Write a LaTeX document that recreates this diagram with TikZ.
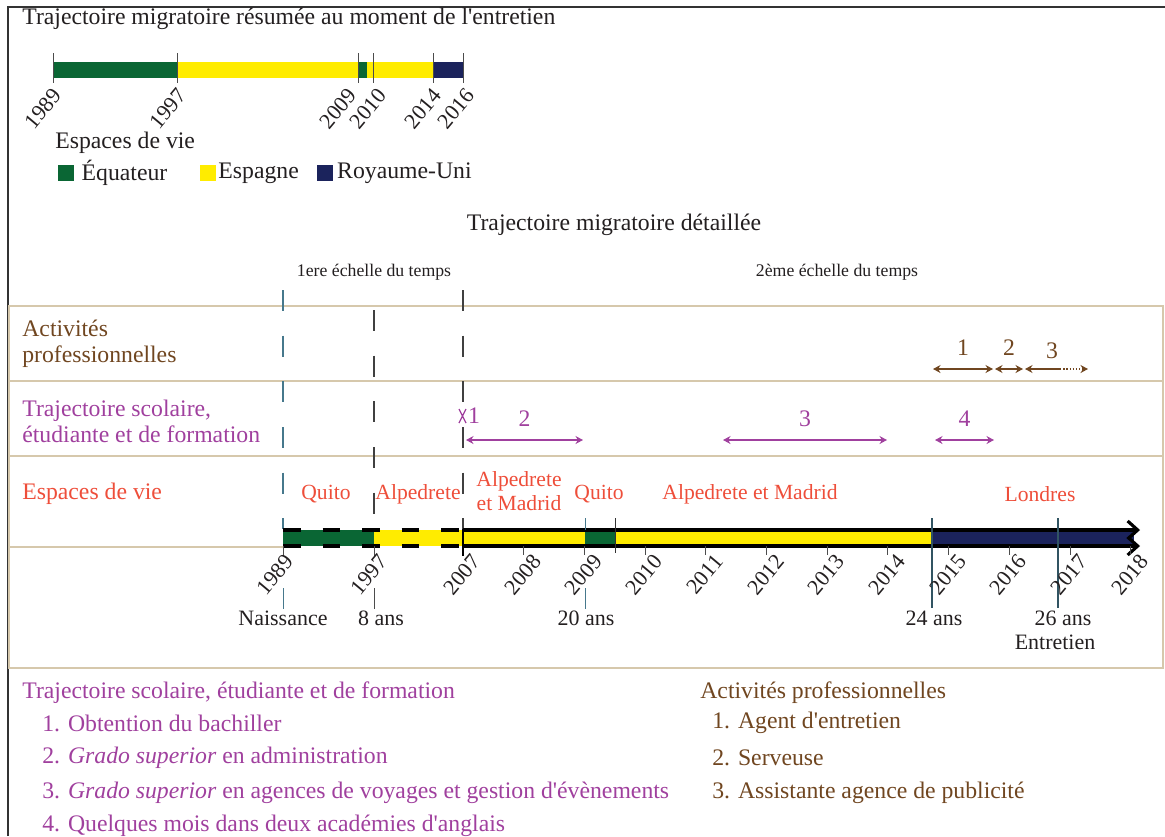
\documentclass[tikz,border=0pt]{standalone}
\usepackage{fontspec}
\setmainfont{Liberation Serif}
\newfontfamily\lserif{Liberation Serif}
\newcommand{\apo}{{\lserif'}}
\usepackage{tikz}
\usepackage{xcolor}
\usetikzlibrary{arrows.meta, positioning, calc}
\definecolor{cGreen}{RGB}{10,102,52}
\definecolor{cYellow}{RGB}{255,236,0}
\definecolor{cNavy}{RGB}{27,35,92}
\definecolor{cBeige}{RGB}{214,200,172}
\definecolor{cRed}{RGB}{238,78,58}
\definecolor{cPurple}{RGB}{160,64,158}
\definecolor{cBrown}{RGB}{112,70,32}
\definecolor{cTeal}{RGB}{70,120,140}
\definecolor{cInk}{RGB}{35,31,32}
\tikzset{
    rowline/.style ={draw=cBeige, line width=1.1pt},
    rowlbl/.style  ={anchor=west, align=left, inner sep=0pt},
    yearlbl/.style ={rotate=50, anchor=east, inner sep=0.5pt, text=cInk, font=\fontsize{12.5}{14}\selectfont},
    placelbl/.style={text=cRed, align=center, inner sep=0pt, font=\fontsize{12.3}{14}\selectfont},
    smalllbl/.style={font=\fontsize{10.1}{12}\selectfont, text=cInk},
    legsq/.style   ={minimum size=0.32cm, inner sep=0pt},
    guide/.style   ={dash pattern=on 12pt off 14pt, line width=0.6pt},
    barline/.style ={line width=1.8pt, black},
    school/.style  ={{Stealth[length=1.5mm,width=1.6mm]}-{Stealth[length=1.5mm,width=1.6mm]}, cPurple, line width=0.8pt},
    work/.style    ={{Stealth[length=1.5mm,width=1.6mm]}-{Stealth[length=1.5mm,width=1.6mm]}, cBrown, line width=0.8pt},
    agelbl/.style  ={anchor=north, inner sep=1pt, text=cInk, font=\fontsize{12.5}{14}\selectfont},
    leg/.style     ={anchor=west, inner sep=0pt},
}

\begin{document}
\begin{tikzpicture}[x=0.02cm, y=-0.02cm, font=\fontsize{13.5}{14.7}\selectfont]
    \useasboundingbox (0,0) rectangle (1165,836);
    \draw[line width=1pt, black!80] (8,836) -- (8,7) -- (1165,7);

    % resume
    \node[leg, text=cInk] (titre1) at (22,19) {Trajectoire migratoire résumée au moment de l\apo entretien};
    \fill[cGreen] (53,62) rectangle (177,78);
    \fill[cYellow] (177,62) rectangle (358,78);
    \fill[cGreen] (358,62) rectangle (367,78);
    \fill[cYellow] (367,62) rectangle (433,78);
    \fill[cNavy] (433,62) rectangle (463,78);
    \foreach \x/\lx/\yr in {53/58/1989,177/183/1997,358/353/2009,373/383/2010,433/438/2014,463/471/2016}{
        \draw[black!70, line width=0.5pt] (\x,53) -- (\x,83);
        \node[yearlbl] (r\yr) at (\lx,91) {\yr};
    }
    \node[leg, text=cInk] (espvie) at (55,143) {Espaces de vie};
    \node[legsq, fill=cGreen] (sqEq) at (66,173) {};
    \node[right=4pt of sqEq, inner sep=0pt, text=cInk] (lgEq) {Équateur};
    \node[legsq, fill=cYellow] (sqEs) at (208,173) {};
    \node[right=1pt of sqEs, inner sep=0pt, text=cInk] (lgEs) {Espagne};
    \node[legsq, fill=cNavy] (sqRu) at (325,173) {};
    \node[right=2pt of sqRu, inner sep=0pt, text=cInk] (lgRu) {Royaume-Uni};

    % detail
    \node[text=cInk] (titre2) at (614,225) {Trajectoire migratoire détaillée};
    \node[smalllbl] (ech1) at (374,272) {1ere échelle du temps};
    \node[smalllbl] (ech2) at (837,272) {2ème échelle du temps};

    \draw[rowline] (9,306) rectangle (1163,668);
    \draw[rowline] (9,381) -- (1163,381);
    \draw[rowline] (9,456) -- (1163,456);
    \draw[rowline] (9,547) -- (283,547);

    \node[rowlbl, text=cBrown] (rowAct) at (22,344) {Activités\\professionnelles};
    \node[rowlbl, text=cPurple] (rowSco) at (22,421) {Trajectoire scolaire,\\étudiante et de formation};
    \node[rowlbl, text=cRed] (rowEsp) at (22,494) {Espaces de vie};

    \draw[guide, cTeal] (283,290) -- (283,529);
    \draw[guide, black!75] (374,310) -- (374,529);
    \draw[guide, black!75] (463,290) -- (463,529);

    % barre
    \fill[cGreen] (283,530) rectangle (374,546);
    \fill[cYellow] (374,530) rectangle (585,546);
    \fill[cGreen] (585,530) rectangle (615,546);
    \fill[cYellow] (615,530) rectangle (932,546);
    \fill[cNavy] (932,530) rectangle (1134,546);
    \coordinate (bHa) at (283,530);
    \coordinate (bHb) at (463,530);
    \coordinate (bHc) at (1140,530);
    \coordinate (bBa) at (283,546);
    \coordinate (bBb) at (463,546);
    \coordinate (bBc) at (1140,546);
    \draw[barline, dash pattern=on 10pt off 12.5pt] (bHa) -- (bHb) (bBa) -- (bBb);
    \draw[barline, -{Straight Barb[length=2mm,width=3.6mm]}] (bHb) -- (bHc);
    \draw[barline, -{Straight Barb[length=2mm,width=3.6mm]}] (bBb) -- (bBc);
    \draw[black, line width=0.6pt] (463,529) -- (463,556);
    \draw[black!70, line width=0.5pt] (283,546) -- (283,556) (374,546) -- (374,556);
    \draw[cTeal, line width=0.5pt] (585,518) -- (585,530);
    \draw[black!80, line width=0.5pt] (615,518) -- (615,553);
    \draw[cTeal!70!black, line width=0.6pt] (932,518) -- (932,608);
    \draw[cTeal!70!black, line width=0.6pt] (1058,518) -- (1058,608);

    \foreach \lx/\yr in {290/1989,384/1997,477/2007}{
        \node[yearlbl] (y\yr) at (\lx,557) {\yr};
    }
    \foreach \i in {1,...,11}{
        \pgfmathtruncatemacro{\yr}{2007+\i}
        \draw[black!70, line width=0.5pt] (463+\i*60.7,546) -- (463+\i*60.7,555);
        \node[yearlbl] (y\yr) at (463+\i*60.7+14,557) {\yr};
    }

    % ages
    \draw[cTeal, line width=0.5pt] (283,588) -- (283,609);
    \draw[black!70, line width=0.5pt] (374,588) -- (374,609);
    \draw[cTeal, line width=0.5pt] (585,588) -- (585,609);
    \node[agelbl] (naiss) at (283,609) {Naissance};
    \node[agelbl] (age8) at (381,609) {8 ans};
    \node[agelbl] (age20) at (586,609) {20 ans};
    \node[agelbl] (age24) at (934,609) {24 ans};
    \node[agelbl] (age26) at (1063,609) {26 ans};
    \node[agelbl] (entr) at (1055,633) {Entretien};

    % lieux
    \node[placelbl] (pQuito1) at (326,494) {Quito};
    \node[placelbl] (pAlp) at (418,494) {Alpedrete};
    \node[placelbl] (pAlpMad1) at (519,491) {Alpedrete\\et Madrid};
    \node[placelbl] (pQuito2) at (599,494) {Quito};
    \node[placelbl] (pAlpMad2) at (750,494) {Alpedrete et Madrid};
    \node[placelbl] (pLond) at (1040,494) {Londres};

    % scolaire
    \draw[cPurple, line width=0.7pt] (459,409) -- (466,423) (466,409) -- (459,423);
    \node[text=cPurple] (sc1) at (474,416) {1};
    \coordinate (sc2a) at (466,440); \coordinate (sc2b) at (583,440);
    \coordinate (sc3a) at (723,440); \coordinate (sc3b) at (887,440);
    \coordinate (sc4a) at (935,440); \coordinate (sc4b) at (994,440);
    \draw[school] (sc2a) -- node[above=4pt]{2} (sc2b);
    \draw[school] (sc3a) -- node[above=4pt]{3} (sc3b);
    \draw[school] (sc4a) -- node[above=4pt]{4} (sc4b);

    % professionnel
    \coordinate (pr1a) at (933,369); \coordinate (pr1b) at (993,369);
    \coordinate (pr2a) at (995,369); \coordinate (pr2b) at (1023,369);
    \coordinate (pr3a) at (1025,369); \coordinate (pr3m) at (1060,369); \coordinate (pr3b) at (1088,369);
    \draw[work] (pr1a) -- node[above=4pt, text=cBrown]{1} (pr1b);
    \draw[work] (pr2a) -- node[above=4pt, text=cBrown]{2} (pr2b);
    \draw[cBrown, line width=0.8pt, {Stealth[length=1.5mm,width=1.6mm]}-] (pr3a) -- (pr3m);
    \draw[cBrown, line width=0.8pt, densely dotted, -{Stealth[length=1.5mm,width=1.6mm]}] (pr3m) -- (pr3b);
    \node[text=cBrown] (pr3lbl) at (1052,351) {3};

    % legendes
    \node[leg, text=cPurple] (lgSco) at (22,693) {Trajectoire scolaire, étudiante et de formation};
    \node[leg, text=cPurple] (lgSco1) at (42,723) {1. Obtention du bachiller};
    \node[leg, text=cPurple] (lgSco2) at (42,758) {2. \textit{Grado superior} en administration};
    \node[leg, text=cPurple] (lgSco3) at (42,793) {3. \textit{Grado superior} en agences de voyages et gestion d\apo évènements};
    \node[leg, text=cPurple] (lgSco4) at (42,826) {4. Quelques mois dans deux académies d\apo anglais};
    \node[leg, text=cBrown] (lgAct) at (700,693) {Activités professionnelles};
    \node[leg, text=cBrown] (lgAct1) at (712,723) {1. Agent d\apo entretien};
    \node[leg, text=cBrown] (lgAct2) at (712,758) {2. Serveuse};
    \node[leg, text=cBrown] (lgAct3) at (712,793) {3. Assistante agence de publicité};
\end{tikzpicture}
\end{document}
